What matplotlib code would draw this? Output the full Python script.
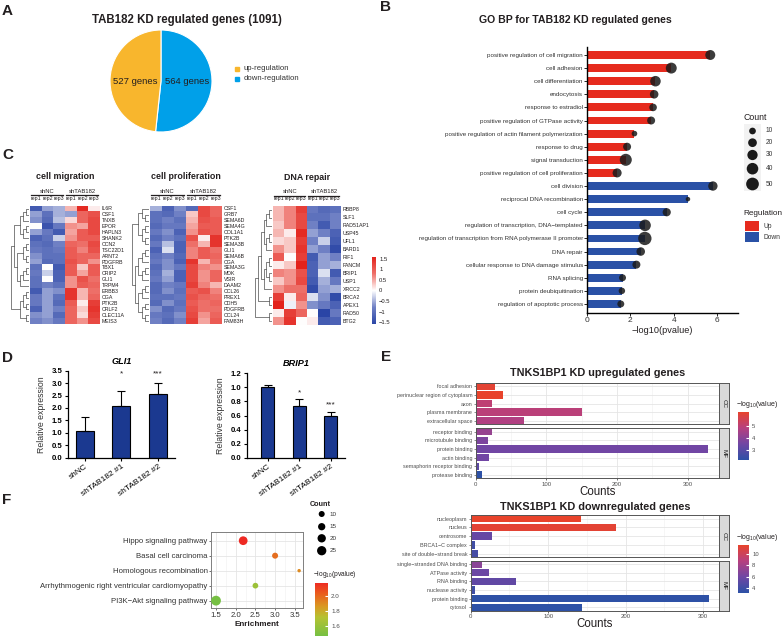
import numpy as np
import matplotlib
matplotlib.use('Agg')
import matplotlib.pyplot as plt
from matplotlib.colors import LinearSegmentedColormap, Normalize
from matplotlib.cm import ScalarMappable
from matplotlib.patches import Rectangle

W, H = 784, 636
plt.rcParams['font.family'] = ['Liberation Sans', 'DejaVu Sans']
plt.rcParams['mathtext.fontset'] = 'custom'
plt.rcParams['mathtext.rm'] = 'Liberation Sans'

# ---- A: pie
pie_labels = ['564 genes', '527 genes']
pie_counts = [564, 527]
pie_legend = ['up-regulation', 'down-regulation']

# ---- B: GO BP
go_up_terms = ['positive regulation of cell migration', 'cell adhesion', 'cell differentiation',
               'endocytosis', 'response to estradiol', 'positive regulation of GTPase activity',
               'positive regulation of actin filament polymerization', 'response to drug',
               'signal transduction', 'positive regulation of cell proliferation']
go_up_logp = [5.69, 3.89, 3.16, 3.10, 3.05, 2.96, 2.19, 1.85, 1.79, 1.39]
go_up_count = [28, 35, 32, 19, 14, 16, 6, 16, 44, 22]
go_down_terms = ['cell division', 'reciprocal DNA recombination', 'cell cycle',
                 'regulation of transcription, DNA\u2212templated',
                 'regulation of transcription from RNA polymerase II promoter', 'DNA repair',
                 'cellular response to DNA damage stimulus', 'RNA splicing',
                 'protein deubiquitination', 'regulation of apoptotic process']
go_down_logp = [5.81, 4.66, 3.68, 2.68, 2.67, 2.48, 2.28, 1.64, 1.61, 1.56]
go_down_count = [24, 3, 17, 40, 56, 19, 16, 11, 9, 11]
count_breaks_b = [10, 20, 30, 40, 50]

# ---- C: heatmaps (row z-scores: shNC rep1-3, shTAB182 rep1-3)
mig_genes = ['IL6R', 'CSF1', 'TNXB', 'EPOR', 'HAPLN3', 'SHANK2', 'CCN2', 'TSC22D1', 'ARNT2', 'PDGFRB',
             'TBX1', 'CRIP2', 'GLI1', 'TRPM4', 'ERBB3', 'CGA', 'PTK2B', 'CRLF2', 'CLEC11A', 'MEIS3']
mig_z = [[-1.3, -0.6, -0.5, 0.4, 1.5, 0.1],
         [-0.6, -1.0, -0.5, -0.6, 0.9, 1.1],
         [-0.7, -1.1, -0.4, 0.2, 0.9, 1.2],
         [0.0, -1.4, -0.9, 0.6, 0.5, 1.2],
         [-0.6, -0.9, -1.3, 0.5, 1.0, 1.2],
         [-1.2, -1.0, -0.3, 0.6, 1.0, 1.0],
         [-1.0, -1.1, -0.8, 0.9, 0.8, 1.2],
         [-0.9, -1.0, -0.9, 1.0, 0.7, 1.1],
         [-0.7, -1.0, -1.0, 1.0, 0.9, 0.9],
         [-0.6, -1.1, -1.0, 1.1, 0.9, 0.6],
         [-1.0, 0.0, -1.3, 1.0, 0.3, 1.0],
         [-0.9, -0.3, -1.2, 1.0, 0.5, 1.0],
         [-1.0, 0.0, -1.2, 0.6, 1.1, 0.8],
         [-1.0, -0.8, -1.0, 0.6, 1.0, 0.9],
         [-1.3, -0.6, -0.7, 1.4, 0.4, 0.8],
         [-0.9, -0.6, -1.0, 1.4, 0.4, 0.9],
         [-0.9, -0.6, -1.1, 1.0, 0.1, 1.3],
         [-1.2, -0.6, -0.8, 0.9, 0.3, 1.4],
         [-0.7, -0.6, -1.1, 0.9, 0.2, 1.3],
         [-0.8, -0.7, -0.9, 0.9, 0.6, 1.2]]
mig_tree = (((((0, 1), 2), ((3, 4), 5)), (((6, 7), (8, 9)), (((10, 11), 12), 13))),
            (((14, 15), (16, 17)), (18, 19)))

prolif_genes = ['CSF1', 'GRB7', 'SEMA6D', 'SEMA4G', 'COL1A1', 'PTK2B', 'SEMA3B', 'GLI1', 'SEMA6B', 'CGA',
                'SEMA3G', 'MDK', 'VSIR', 'DAAM2', 'CCL26', 'PREX1', 'CDH5', 'PDGFRB', 'CCL24', 'FAM83H']
prolif_z = [[-0.5, -1.2, -0.7, -1.1, 1.2, 0.9],
            [-1.0, -1.1, -0.8, 0.3, 1.2, 0.9],
            [-1.0, -0.8, -1.0, 0.4, 1.1, 1.0],
            [-1.1, -0.9, -0.9, 0.5, 1.0, 1.0],
            [-0.9, -0.7, -1.2, 0.6, 1.1, 1.0],
            [-1.1, -0.8, -1.0, 1.1, 0.1, 1.4],
            [-0.9, -0.4, -1.2, 0.8, 0.4, 1.4],
            [-1.2, -0.2, -1.2, 0.7, 1.0, 0.8],
            [-1.0, -0.8, -1.1, 0.7, 1.0, 0.9],
            [-0.9, -0.7, -1.2, 1.4, 0.4, 0.8],
            [-1.1, -0.7, -0.9, 1.2, 0.7, 0.6],
            [-1.0, -0.5, -1.2, 1.2, 0.6, 0.9],
            [-0.9, -0.6, -1.2, 1.2, 0.6, 0.9],
            [-1.1, -0.8, -0.9, 1.3, 0.7, 0.4],
            [-1.1, -0.7, -1.0, 1.0, 1.1, 0.7],
            [-1.0, -1.0, -0.9, 1.1, 0.9, 0.8],
            [-1.1, -0.7, -1.0, 1.0, 0.8, 0.9],
            [-0.7, -1.1, -0.9, 1.1, 0.8, 0.8],
            [-0.9, -1.0, -0.7, 1.2, 0.6, 0.9],
            [-0.8, -1.1, -0.8, 1.3, 0.5, 1.0]]
prolif_tree = (((0, (1, 2)), ((3, 4), (5, 6))),
               ((((7, 8), 9), ((10, 11), 12)), (((13, 14), 15), ((16, 17), (18, 19)))))

dna_genes = ['RBBP8', 'SLF1', 'RAD51AP1', 'USP45', 'UFL1', 'BARD1', 'RIF1', 'FANCM', 'BRIP1', 'USP1',
             'XRCC2', 'BRCA2', 'APEX1', 'RAD50', 'BTG2']
dna_z = [[0.4, 0.7, 1.3, -0.9, -1.1, -1.0],
         [0.4, 0.7, 1.2, -1.0, -1.0, -0.8],
         [0.3, 0.7, 1.2, -0.8, -1.3, -0.8],
         [0.4, 0.1, 1.5, -0.6, -0.8, -1.2],
         [0.2, 0.3, 1.3, -0.8, -0.3, -1.3],
         [0.6, 0.3, 1.4, -0.6, -0.8, -1.5],
         [1.0, 0.0, 1.3, -1.3, -0.6, -0.8],
         [0.1, 0.3, 1.6, -1.2, -0.6, -0.5],
         [0.7, 0.6, 1.1, -1.2, -0.2, -1.3],
         [0.3, 0.6, 1.2, -1.3, -0.5, -0.9],
         [0.6, 0.8, 0.8, -1.5, -0.6, -0.5],
         [1.3, 0.1, 0.9, -0.2, -0.7, -1.5],
         [1.6, -0.1, 0.6, -0.7, -0.9, -1.2],
         [0.1, 1.3, 0.9, 0.0, -1.6, -0.9],
         [0.6, 1.4, 0.0, 0.1, -1.3, -1.2]]
dna_tree = ((((((0, 1), 2), ((3, 4), 5)), (((6, 7), (8, 9)), 10)), (11, 12)), (13, 14))
heat_groups = ['shNC', 'shTAB182']
heat_reps = ['rep1', 'rep2', 'rep3']
heat_ticks = [1.5, 1, 0.5, 0, -0.5, -1, -1.5]

# ---- D: qPCR
qpcr_groups = ['shNC', 'shTAB182 #1', 'shTAB182 #2']
gli1_mean = [1.08, 2.08, 2.58]
gli1_sd = [0.54, 0.62, 0.42]
brip1_mean = [1.00, 0.74, 0.59]
brip1_sd = [0.04, 0.09, 0.06]
qpcr_sig = ['', '*', '***']

# ---- E: TNKS1BP1 GO
up_cc_terms = ['focal adhesion', 'perinuclear region of cytoplasm', 'axon', 'plasma membrane',
               'extracellular space']
up_cc_counts = [28, 39, 23, 151, 69]
up_cc_logv = [6.0, 6.15, 5.0, 4.9, 4.7]
up_mf_terms = ['receptor binding', 'microtubule binding', 'protein binding', 'actin binding',
               'semaphorin receptor binding', 'protease binding']
up_mf_counts = [23, 17, 329, 19, 5, 9]
up_mf_logv = [4.2, 3.7, 3.5, 3.5, 3.1, 2.15]

down_cc_terms = ['nucleoplasm', 'nucleus', 'centrosome', 'BRCA1\u2212C complex',
                 'site of double\u2212strand break']
down_cc_counts = [142, 188, 28, 5, 10]
down_cc_logv = [11.5, 11.2, 5.6, 4.1, 4.3]
down_mf_terms = ['single\u2212stranded DNA binding', 'ATPase activity', 'RNA binding',
                 'nuclease activity', 'protein binding', 'cytosol']
down_mf_counts = [14, 24, 58, 6, 307, 144]
down_mf_logv = [7.0, 5.8, 5.4, 4.0, 3.3, 3.25]

# ---- F: KEGG
kegg_terms = ['Hippo signaling pathway', 'Basal cell carcinoma', 'Homologous recombination',
              'Arrhythmogenic right ventricular cardiomyopathy', 'PI3K\u2212Akt signaling pathway']
kegg_enrich = [2.19, 3.00, 3.61, 2.50, 1.50]
kegg_count = [22, 10, 3, 9, 28]
kegg_logp = [2.17, 1.98, 1.90, 1.62, 1.47]
count_breaks_f = [10, 15, 20, 25]

ORANGE = '#F8B62D'
SKY = '#00A0E9'
UP_RED = '#E62B1E'
DOWN_BLUE = '#2A51A6'
NAVY = '#1B3990'
heat_cmap = LinearSegmentedColormap.from_list(
    'heat', [(0, '#2A45A6'), (0.25, '#6F80C4'), (0.5, '#FFFFFF'), (0.75, '#EE7069'), (1, '#E3221B')])
go_cmap = LinearSegmentedColormap.from_list('go', ['#2D51A6', '#7046A4', '#B7407F', '#E8432B'])
kegg_cmap = LinearSegmentedColormap.from_list(
    'kegg', [(0, '#76C043'), (0.35, '#B5C232'), (0.55, '#D99A22'), (0.8, '#EA5C1E'), (1, '#EE2A23')])


def rect(x0, y0, x1, y1):
    return [x0 / W, 1 - y1 / H, (x1 - x0) / W, (y1 - y0) / H]


def dot_s(d_px):
    return (np.asarray(d_px) * 0.72) ** 2


def size_b(c):
    return dot_s(1.85 + 1.535 * np.sqrt(np.asarray(c, dtype=float)))


def size_f(c):
    return dot_s(0.34 + 1.79 * np.sqrt(np.asarray(c, dtype=float)))


fig = plt.figure(figsize=(W / 100, H / 100), dpi=100)
ov = fig.add_axes([0, 0, 1, 1], zorder=20)
ov.set_xlim(0, W)
ov.set_ylim(H, 0)
ov.axis('off')

for lab, x, y in [('A', 2, 11), ('B', 380, 7), ('C', 2, 155), ('D', 2, 358), ('E', 381, 357), ('F', 2, 500)]:
    ov.text(x, y, lab, fontsize=11, fontweight='bold', ha='left', va='center', color='#231F20')

# ---------------- A
ov.text(187, 20, 'TAB182 KD regulated genes (1091)', fontsize=8.3, fontweight='bold',
        ha='center', va='center', color='#231F20')
ax = fig.add_axes(rect(110, 30, 212, 132))
ax.pie(pie_counts, colors=[SKY, ORANGE], startangle=90, counterclock=False,
       wedgeprops=dict(edgecolor='white', linewidth=0.8))
ax.set_xlim(-1, 1)
ax.set_ylim(-1, 1)
ax.set_aspect('equal')
ax.text(0.52, 0, pie_labels[0], ha='center', va='center', fontsize=6.8, color='#231F20')
ax.text(-0.5, 0, pie_labels[1], ha='center', va='center', fontsize=6.8, color='#231F20')
for i, (lab, col) in enumerate(zip(pie_legend, [ORANGE, SKY])):
    ov.add_patch(Rectangle((235, 66.5 + 10 * i), 4, 4, color=col))
    ov.text(243.3, 68.5 + 10 * i, lab, fontsize=5.6, va='center', color='#333333')

# ---------------- B
ov.text(575, 20, 'GO BP for TAB182 KD regulated genes', fontsize=7.6, fontweight='bold',
        ha='center', va='center', color='#231F20')
ax = fig.add_axes(rect(587, 47, 738, 313))
terms = go_up_terms + go_down_terms
logp = go_up_logp + go_down_logp
cnts = go_up_count + go_down_count
cols = [UP_RED] * len(go_up_terms) + [DOWN_BLUE] * len(go_down_terms)
ys = np.arange(len(terms), 0, -1)
ax.barh(ys, logp, height=0.6, color=cols, zorder=2)
ax.scatter(logp, ys, s=size_b(cnts), color='#1A1A1A', alpha=0.85, lw=0, zorder=3, clip_on=False)
ax.set_xlim(0, 6.97)
ax.set_ylim(0.31, 20.61)
ax.set_yticks(ys, terms)
ax.set_xticks([0, 2, 4, 6])
ax.tick_params(axis='y', labelsize=4.5, labelcolor='#333333', length=2, width=0.6, pad=1)
ax.tick_params(axis='x', labelsize=6, labelcolor='#333333', length=2, width=0.6, pad=1)
for s in ['top', 'right']:
    ax.spines[s].set_visible(False)
for s in ['left', 'bottom']:
    ax.spines[s].set_linewidth(1.0)
ax.set_xlabel('\u2212log10(pvalue)', fontsize=6.6, labelpad=1, color='#231F20')

ov.text(744, 118, 'Count', fontsize=6.3, va='center', color='#231F20')
ov.add_patch(Rectangle((744, 124), 17, 67, color='#F2F2F2', lw=0))
leg_y = [131, 142.7, 155, 168.7, 184]
ov.scatter([752.5] * len(count_breaks_b), leg_y, s=size_b(count_breaks_b), color='#1A1A1A', lw=0, zorder=5)
for c, y in zip(count_breaks_b, leg_y):
    ov.text(765.5, y, str(c), fontsize=4.8, va='center', color='#333333')
ov.text(743, 213.3, 'Regulation', fontsize=5.9, va='center', color='#231F20')
for i, (lab, col) in enumerate(zip(['Up', 'Down'], [UP_RED, DOWN_BLUE])):
    ov.add_patch(Rectangle((745, 221 + 11.3 * i), 14, 10, color=col, lw=0))
    ov.text(764, 226 + 11.3 * i, lab, fontsize=4.8, va='center', color='#333333')

# ---------------- C
hnorm = Normalize(-1.6, 1.6)


def walk_tree(ax, node):
    if isinstance(node, int):
        return node + 0.5, 0
    (ya, ha), (yb, hb) = [walk_tree(ax, c) for c in node]
    h = max(ha, hb) + 1
    ax.plot([ha, h, h, hb], [ya, ya, yb, yb], color='#4D4D4D', lw=0.5)
    return (ya + yb) / 2, h


def draw_heatmap(cells, dendro_x0, values, genes, tree, title):
    x0, y0, x1, y1 = cells
    ax = fig.add_axes(rect(x0, y0, x1, y1))
    ax.imshow(np.array(values), cmap=heat_cmap, norm=hnorm, aspect='auto', interpolation='nearest')
    ax.set_xticks([])
    ax.set_yticks([])
    for s in ax.spines.values():
        s.set_visible(False)
    n = len(genes)
    rh = (y1 - y0) / n
    for i, g in enumerate(genes):
        ov.text(x1 + 2, y0 + (i + 0.5) * rh, g, fontsize=3.8, va='center', color='#231F20')
    cw = (x1 - x0) / 6
    for j in range(6):
        ov.text(x0 + (j + 0.5) * cw, y0 - 7.2, heat_reps[j % 3], fontsize=3.8, ha='center',
                va='center', color='#231F20')
    for k, grp in enumerate(heat_groups):
        gx0 = x0 + 3 * k * cw
        gx1 = gx0 + 3 * cw
        ov.plot([gx0 + 1.5, gx1 - 1.5], [y0 - 10.5, y0 - 10.5], color='#231F20', lw=0.9)
        ov.text((gx0 + gx1) / 2, y0 - 14.5, grp, fontsize=4.2, ha='center', va='center',
                color='#231F20')
    ov.text((x0 + x1) / 2, y0 - 29, title, fontsize=6.4, fontweight='bold', ha='center',
            va='center', color='#231F20')
    dax = fig.add_axes(rect(dendro_x0, y0, x0 - 1, y1))
    _, root_h = walk_tree(dax, tree)
    dax.set_xlim(root_h, 0)
    dax.set_ylim(n, 0)
    dax.axis('off')


draw_heatmap((30, 205.7, 100, 324.3), 11, mig_z, mig_genes, mig_tree, 'cell migration')
draw_heatmap((149.5, 205.7, 221.5, 324.3), 131.5, prolif_z, prolif_genes, prolif_tree, 'cell proliferation')
draw_heatmap((273, 206, 341, 325), 255, dna_z, dna_genes, dna_tree, 'DNA repair')

cax = fig.add_axes(rect(371.7, 256.7, 376.3, 324.3))
cb = fig.colorbar(ScalarMappable(hnorm, heat_cmap), cax=cax)
cb.outline.set_visible(False)
cb.set_ticks(heat_ticks)
cb.set_ticklabels([('%g' % t).replace('-', '\u2212') for t in heat_ticks])
cax.tick_params(labelsize=4.2, length=0, pad=2, labelcolor='#231F20')


# ---------------- D
def draw_qpcr(box, means, sds, title, ymax, step, width, xlim, star_level, ylab_pad):
    ax = fig.add_axes(rect(*box))
    x = np.arange(len(means))
    ax.bar(x, means, width=width, color=NAVY, edgecolor='black', linewidth=0.8, zorder=2)
    ax.errorbar(x, means, yerr=[np.zeros(len(sds)), sds], fmt='none', ecolor='black',
                elinewidth=0.8, capsize=2.8, capthick=0.8, zorder=3)
    tops = np.array(means) + np.array(sds)
    for xi, t, sig in zip(x, tops, qpcr_sig):
        if sig:
            y = star_level if star_level is not None else t + 0.08 * ymax
            ax.text(xi, y, sig, ha='center', va='center', fontsize=6, color='#231F20')
    ax.set_xlim(*xlim)
    ax.set_ylim(0, ymax)
    yt = np.arange(0, ymax + 1e-6, step)
    ax.set_yticks(yt, ['%.1f' % v for v in yt])
    ax.set_xticks(x, qpcr_groups, rotation=35, ha='right', rotation_mode='anchor')
    ax.tick_params(axis='y', labelsize=5.6, length=2.5, width=0.8, pad=1.5)
    ax.tick_params(axis='x', labelsize=6, length=2.5, width=0.8, pad=1.5)
    for lbl in ax.get_yticklabels():
        lbl.set_fontweight('bold')
    for s in ['top', 'right']:
        ax.spines[s].set_visible(False)
    for s in ['left', 'bottom']:
        ax.spines[s].set_linewidth(0.9)
    ax.set_ylabel('Relative expression', fontsize=6.3, color='#333333', labelpad=ylab_pad)
    ax.set_title(title, fontsize=6.6, fontweight='bold', fontstyle='italic', pad=5)


draw_qpcr((68, 370.7, 175, 457.7), gli1_mean, gli1_sd, 'GLI1', 3.5, 0.5, 0.49,
          (-0.466, 2.47), 3.38, 4)
draw_qpcr((246.7, 373.3, 345, 457.7), brip1_mean, brip1_sd, 'BRIP1', 1.2, 0.2, 0.41,
          (-0.67, 2.46), None, 4)


# ---------------- E
def draw_go_panel(x0, x1, cc_span, mf_span, xmax, cc, mf, title, title_y, xlabel_y,
                  cbar_box, cbar_ticks, cbar_title_y):
    vals = list(cc[2]) + list(mf[2])
    norm = Normalize(min(vals), max(vals))
    for k, ((ya, yb), (terms, counts, logv), strip) in enumerate(
            [(cc_span, cc, 'CC'), (mf_span, mf, 'MF')]):
        ax = fig.add_axes(rect(x0, ya, x1, yb))
        ys = np.arange(len(terms))
        ax.barh(ys, counts, height=0.85, color=go_cmap(norm(np.array(logv))), zorder=2)
        ax.set_xlim(0, xmax)
        ax.set_ylim(len(terms) - 0.6, -0.4)
        ax.set_yticks(ys, terms)
        ax.tick_params(axis='y', labelsize=3.9, labelcolor='#4D4D4D', length=1.5, width=0.4,
                       color='#333333', pad=1)
        ax.set_xticks([0, 100, 200, 300])
        ax.set_xticks([50, 150, 250], minor=True)
        ax.tick_params(axis='x', which='minor', length=0)
        ax.grid(which='major', color='#E5E5E5', lw=0.6)
        ax.grid(which='minor', axis='x', color='#F0F0F0', lw=0.4)
        ax.set_axisbelow(True)
        for s in ax.spines.values():
            s.set_color('#555555')
            s.set_linewidth(0.7)
        if k == 0:
            ax.tick_params(axis='x', which='major', labelbottom=False, length=0)
        else:
            ax.tick_params(axis='x', which='major', labelsize=4.3, labelcolor='#4D4D4D',
                           length=1.5, width=0.4, pad=1)
        sax = fig.add_axes(rect(x1, ya, x1 + 10, yb))
        sax.set_facecolor('#D9D9D9')
        sax.set_xticks([])
        sax.set_yticks([])
        for s in sax.spines.values():
            s.set_color('#555555')
            s.set_linewidth(0.7)
        sax.text(0.5, 0.5, strip, rotation=-90, ha='center', va='center', fontsize=4.5,
                 color='#1A1A1A', transform=sax.transAxes)
    ov.text((x0 + x1) / 2, title_y, title, fontsize=7.8, fontweight='bold', ha='center',
            va='center', color='#231F20')
    ov.text((x0 + x1) / 2, xlabel_y, 'Counts', fontsize=8.3, ha='center', va='center',
            color='#231F20')
    cax = fig.add_axes(rect(*cbar_box))
    cb = fig.colorbar(ScalarMappable(norm, go_cmap), cax=cax)
    cb.outline.set_visible(False)
    cb.set_ticks(cbar_ticks)
    cax.tick_params(labelsize=4.2, length=2, color='white', direction='in', pad=2,
                    labelcolor='#4D4D4D')
    ov.text(736, cbar_title_y, '\u2212log$_{10}$(value)', fontsize=5, va='center',
            color='#231F20')


draw_go_panel(475.7, 719.3, (382.7, 424.3), (428.3, 478.3), 345,
              (up_cc_terms, up_cc_counts, up_cc_logv), (up_mf_terms, up_mf_counts, up_mf_logv),
              'TNKS1BP1 KD upregulated genes', 373, 491.7,
              (738.3, 411.7, 749.3, 460), [3, 4, 5], 404)
draw_go_panel(470.7, 719.3, (515, 557.3), (560.7, 610.7), 320.8,
              (down_cc_terms, down_cc_counts, down_cc_logv),
              (down_mf_terms, down_mf_counts, down_mf_logv),
              'TNKS1BP1 KD downregulated genes', 507.3, 624,
              (738.3, 545, 749.3, 592.7), [4, 6, 8, 10], 537.7)

# ---------------- F
knorm = Normalize(min(kegg_logp), max(kegg_logp))
ax = fig.add_axes(rect(211, 531.7, 303.3, 608.3))
ys = np.arange(len(kegg_terms), 0, -1)
ax.scatter(kegg_enrich, ys, s=size_f(kegg_count), c=kegg_logp, cmap=kegg_cmap, norm=knorm,
           lw=0, zorder=3, clip_on=False)
ax.set_xlim(1.373, 3.716)
ax.set_ylim(0.49, 5.6)
ax.set_xticks([1.5, 2.0, 2.5, 3.0, 3.5])
ax.set_xticks([1.75, 2.25, 2.75, 3.25], minor=True)
ax.set_yticks(ys, kegg_terms)
ax.tick_params(axis='y', labelsize=5.6, labelcolor='#333333', length=1.5, width=0.4, pad=1)
ax.tick_params(axis='x', which='major', labelsize=5.6, labelcolor='#333333', length=1.5,
               width=0.4, pad=1)
ax.tick_params(axis='x', which='minor', length=0)
ax.grid(which='major', color='#E5E5E5', lw=0.6)
ax.grid(which='minor', axis='x', color='#F0F0F0', lw=0.4)
ax.set_axisbelow(True)
for s in ax.spines.values():
    s.set_color('#7F7F7F')
    s.set_linewidth(0.7)
ax.set_xlabel('Enrichment', fontsize=5.9, fontweight='bold', labelpad=1.5, color='#231F20')

ov.text(310, 505, 'Count', fontsize=5.2, fontweight='bold', va='center', color='#231F20')
leg_y = [514, 526.7, 538.3, 550.7]
ov.scatter([321.7] * len(count_breaks_f), leg_y, s=size_f(count_breaks_f), color='black', lw=0,
           zorder=5)
for c, y in zip(count_breaks_f, leg_y):
    ov.text(329.3, y, str(c), fontsize=4.5, va='center', color='#333333')
ov.text(313.3, 575, '\u2212log$_{10}$(pvalue)', fontsize=4.8, va='center', color='#231F20')
cax = fig.add_axes(rect(315, 582.7, 328.3, 636))
cb = fig.colorbar(ScalarMappable(knorm, kegg_cmap), cax=cax)
cb.outline.set_visible(False)
cb.set_ticks([1.6, 1.8, 2.0])
cb.set_ticklabels(['1.6', '1.8', '2.0'])
cax.tick_params(labelsize=4.5, length=2, color='white', direction='in', pad=2,
                labelcolor='#4D4D4D')

fig.savefig('out.png', dpi=100)
